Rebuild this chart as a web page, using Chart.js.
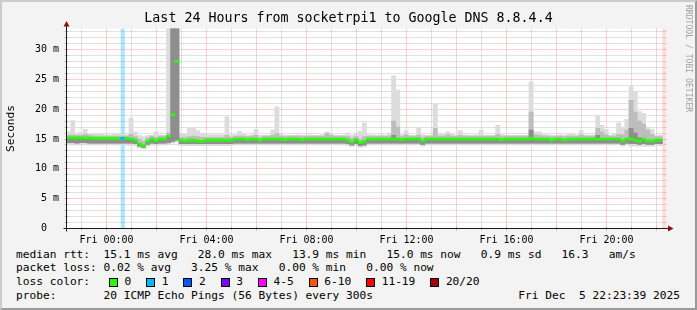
<!DOCTYPE html>
<html><head><meta charset="utf-8">
<script src="https://cdn.jsdelivr.net/npm/chart.js@4/dist/chart.umd.min.js"></script>
<style>
html,body{margin:0;padding:0;background:#f3f3f3;}
#frame{position:absolute;left:0;top:0;width:697px;height:310px;box-sizing:border-box;background:#f3f3f3;border-style:solid;border-width:2px;border-color:#cbcbcb #9a9a9a #9a9a9a #cbcbcb;}
canvas{position:absolute;left:0;top:0;}
.lg{position:absolute;font-family:'DejaVu Sans Mono',monospace;font-size:11.2px;line-height:14px;white-space:pre;color:#000;}
.box{position:absolute;width:7px;height:7px;border:1px solid #000;}
#wm{position:absolute;left:685px;top:5px;writing-mode:vertical-rl;font-family:'DejaVu Sans Mono',monospace;font-size:8.1px;line-height:8px;color:#a0a0a0;white-space:pre;}
</style></head><body>
<div id="frame"></div>
<canvas id="c" width="697" height="245"></canvas>
<div id="legend"></div>
<div id="wm">RRDTOOL / TOBI OETIKER</div>
<script>
// ---- data (10-minute bins over the last 24 hours, values in ms) ----
const titleText = 'Last 24 Hours from socketrpi1 to Google DNS 8.8.4.4';
const xTickHours = [1.6, 5.6, 9.6, 13.6, 17.6, 21.6];
const xTickLabels = ['Fri 00:00','Fri 04:00','Fri 08:00','Fri 12:00','Fri 16:00','Fri 20:00'];
const yTickValues = [0, 5, 10, 15, 20, 25, 30];
const yTickLabels = ['0  ', '5 m', '10 m', '15 m', '20 m', '25 m', '30 m'];

const median = [
15.2,15.2,15.2,15.2,15.2,15.2, 15.1,15.1,15.1,15.1,15.1,15.1,
15.1,15.1,15.1,15.0,14.8,14.2, 13.9,14.6,15.0,14.7,15.0,15.0,
15.5,19.1,28.0,14.8,14.7,14.8, 14.8,14.7,14.6,14.8,14.8,14.8,
14.8,14.8,14.8,14.8,15.0,15.0, 15.0,14.9,15.0,15.0,14.8,15.0,
15.0,15.0,15.0,15.0,14.9,15.0, 15.0,15.0,14.9,15.0,15.0,15.0,
15.0,15.0,15.0,15.0,15.0,15.0, 15.0,14.8,14.5,14.9,14.4,14.6,
15.0,15.0,15.0,15.0,15.0,15.0, 15.0,15.0,14.9,15.0,15.0,15.0,
15.0,14.7,15.0,15.0,15.0,15.0, 15.0,15.0,15.0,15.0,15.0,15.0,
15.0,15.0,15.0,15.0,15.0,15.0, 15.0,15.0,14.9,15.0,15.0,15.0,
15.0,15.0,15.0,15.1,15.0,15.0, 15.0,15.0,14.8,15.0,15.0,14.8,
15.0,15.0,15.0,15.0,15.0,15.0, 15.0,15.0,15.0,15.0,15.0,15.0,
15.0,14.7,15.0,15.0,14.8,14.7, 15.0,14.7,14.7,14.8,14.8,null];

const smokeMax = [
16.2,18.1,16.0,16.1,16.6,15.8, 15.8,15.9,15.8,15.7,15.7,15.8,
15.9,15.8,15.7,18.5,16.2,15.6, 15.4,15.6,15.6,16.2,15.6,15.6,
40,40,40,15.8,15.8,16.8,       16.8,16.4,15.9,15.9,15.7,15.7,
15.7,15.7,18.7,15.7,15.7,16.3, 15.8,15.6,15.7,16.6,15.6,15.6,
15.6,16.5,20.4,15.9,15.6,15.6, 15.6,15.7,15.6,15.6,15.7,15.6,
15.6,15.7,16.2,16.0,15.6,15.6, 15.6,16.0,15.6,15.8,16.3,17.7,
15.7,15.7,15.6,15.7,15.6,16.0, 25.6,23.2,15.7,16.4,15.6,15.6,
16.9,15.7,15.6,15.6,20.8,16.0, 15.8,16.2,15.9,15.6,16.4,15.7,
15.6,15.6,15.7,16.5,15.6,15.6, 15.6,17.3,15.7,15.6,15.6,15.6,
15.6,15.6,15.6,24.6,16.2,16.2, 15.8,15.7,15.6,15.6,15.7,15.6,
15.8,15.8,15.6,16.4,15.7,15.6, 15.7,18.9,17.3,16.6,15.6,15.8,
17.7,17.0,18.3,23.8,23.0,19.6, 19.3,17.0,16.6,15.6,15.6,null];

const smokeUp = [
15.6,15.7,15.6,15.6,15.8,15.6, 15.5,15.5,15.5,15.5,15.5,15.5,
15.5,15.5,15.5,15.8,15.4,15.0, 14.6,15.2,15.5,15.3,15.5,15.5,
16.0,40,40,15.3,15.3,15.4,     15.5,15.4,15.3,15.3,15.3,15.3,
15.3,15.3,15.6,15.3,15.5,15.5, 15.5,15.4,15.5,15.6,15.3,15.5,
15.5,15.6,15.9,15.5,15.4,15.5, 15.5,15.5,15.5,15.5,15.5,15.5,
15.5,15.5,15.9,15.6,15.5,15.5, 15.5,15.4,15.1,15.4,15.0,15.4,
15.5,15.5,15.5,15.5,15.5,15.5, 18.0,17.0,15.5,15.7,15.5,15.5,
15.6,15.3,15.5,15.5,16.8,15.5, 15.5,15.7,15.5,15.5,15.6,15.5,
15.5,15.5,15.5,15.5,15.5,15.5, 15.5,15.8,15.5,15.5,15.5,15.5,
15.5,15.5,15.5,19.5,15.7,15.6, 15.5,15.5,15.4,15.5,15.5,15.4,
15.5,15.5,15.5,15.7,15.5,15.5, 15.5,16.8,16.2,15.7,15.5,15.5,
15.8,15.7,16.5,21.5,19.5,18.0, 17.5,16.5,15.8,15.4,15.4,null];

const smokeDark = [
15.2,15.2,15.2,15.2,15.2,15.2, 15.1,15.1,15.1,15.1,15.1,15.1,
15.1,15.1,15.1,15.0,14.8,14.2, 13.9,14.6,15.0,14.7,15.0,15.0,
15.5,40,40,14.8,14.7,14.8,     14.8,14.7,14.6,14.8,14.8,14.8,
14.8,14.8,14.8,14.8,15.0,15.0, 15.0,14.9,15.0,15.0,14.8,15.0,
15.0,15.0,15.0,15.0,14.9,15.0, 15.0,15.0,14.9,15.0,15.0,15.0,
15.0,15.0,15.0,15.0,15.0,15.0, 15.0,14.8,14.5,14.9,14.4,14.6,
15.0,15.0,15.0,15.0,15.0,15.0, 15.6,15.0,14.9,15.0,15.0,15.0,
15.0,14.7,15.0,15.0,15.0,15.0, 15.0,15.0,15.0,15.0,15.0,15.0,
15.0,15.0,15.0,15.0,15.0,15.0, 15.0,15.0,14.9,15.0,15.0,15.0,
15.0,15.0,15.0,16.5,15.0,15.0, 15.0,15.0,14.8,15.0,15.0,14.8,
15.0,15.0,15.0,15.0,15.0,15.0, 15.0,15.6,15.0,15.0,15.0,15.0,
15.0,14.7,15.0,16.8,16.0,15.2, 15.0,14.7,14.7,14.8,14.8,null];

const smokeLo = [
14.4,14.4,14.3,14.4,14.4,14.3, 14.3,14.3,14.3,14.3,14.3,14.3,
14.3,14.3,14.3,14.3,14.2,13.8, 13.6,14.1,14.3,14.2,14.3,14.3,
14.4,14.6,14.8,14.2,14.2,14.2, 14.2,14.2,14.2,14.2,14.2,14.2,
14.2,14.2,14.2,14.2,14.3,14.3, 14.3,14.3,14.3,14.3,14.3,14.3,
14.3,14.3,14.3,14.3,14.3,14.3, 14.3,14.3,14.3,14.3,14.3,14.3,
14.3,14.3,14.3,14.3,14.3,14.3, 14.3,14.2,14.0,14.2,13.9,14.0,
14.3,14.3,14.3,14.3,14.3,14.3, 14.3,14.3,14.3,14.3,14.3,14.3,
14.3,14.1,14.3,14.3,14.3,14.3, 14.3,14.3,14.3,14.3,14.3,14.3,
14.3,14.3,14.3,14.3,14.3,14.3, 14.3,14.3,14.3,14.3,14.3,14.3,
14.3,14.3,14.3,14.3,14.3,14.3, 14.3,14.3,14.3,14.3,14.3,14.3,
14.3,14.3,14.3,14.3,14.3,14.3, 14.3,14.3,14.3,14.3,14.3,14.3,
14.3,14.1,14.3,14.2,14.2,14.1, 14.2,14.1,14.1,14.2,14.2,null];

const smokeMin = [
14.0,14.0,14.0,14.0,14.1,14.0, 14.0,14.0,14.0,14.0,14.0,14.0,
14.0,14.0,14.0,13.9,13.9,13.5, 13.4,13.8,14.0,13.9,14.0,14.0,
14.1,14.3,14.5,13.9,13.9,13.9, 13.9,13.9,13.9,13.9,13.9,13.9,
13.9,13.9,13.9,13.9,14.0,14.0, 14.0,14.0,14.0,14.0,14.0,14.0,
14.0,14.0,14.0,14.0,14.0,14.0, 14.0,14.0,14.0,14.0,14.0,14.0,
14.0,14.0,14.0,14.0,14.0,14.0, 14.0,13.9,13.7,13.9,13.6,13.7,
14.0,14.0,14.0,14.0,14.0,14.0, 14.0,14.0,14.0,14.0,14.0,14.0,
14.0,13.8,14.0,14.0,14.0,14.0, 14.0,14.0,14.0,14.0,14.0,14.0,
14.0,14.0,14.0,14.0,14.0,14.0, 14.0,14.0,14.0,14.0,14.0,14.0,
14.0,14.0,14.0,14.0,14.0,14.0, 14.0,14.0,14.0,14.0,14.0,14.0,
14.0,14.0,14.0,14.0,14.0,14.0, 14.0,14.0,14.0,14.0,14.0,14.0,
14.0,13.8,14.0,13.8,13.8,13.8, 13.8,13.8,13.8,13.9,13.9,null];

const lossCount = [
0,0,0,0,0,0, 0,0,0,0,0,0, 0,1,0,0,0,0, 0,0,0,0,0,0,
0,0,0,0,0,0, 0,0,0,0,0,0, 0,0,0,0,0,0, 0,0,0,0,0,0,
0,0,0,0,0,0, 0,0,0,0,0,0, 0,0,0,0,0,0, 0,0,0,0,0,0,
0,0,0,0,0,0, 0,0,0,0,0,0, 0,0,0,0,0,0, 0,0,0,0,0,0,
0,0,0,0,0,0, 0,0,0,0,0,0, 0,0,0,0,0,0, 0,0,0,0,0,0,
0,0,0,0,0,0, 0,0,0,0,0,0, 0,0,0,0,0,0, 0,0,0,0,0,20];

const lossLabels = ['0','1','2','3','4-5','6-10','11-19','20/20'];
const lossFrom   = [0, 1, 2, 3, 4, 6, 11, 20];
const lossColors = ['#26ff00','#00b8ff','#0059ff','#7e00ff','#ff00ff','#ff5500','#ff0000','#a00000'];
const lossBgColors = ['rgba(38,255,0,0.3)','rgba(0,184,255,0.33)','rgba(0,89,255,0.3)','rgba(126,0,255,0.3)','rgba(255,0,255,0.3)','rgba(255,85,0,0.3)','rgba(255,0,0,0.3)','rgba(255,0,0,0.14)'];

const rttStats = ['15.1 ms avg','28.0 ms max','13.9 ms min','15.0 ms now','0.9 ms sd','16.3   am/s'];
const lossStats = ['0.02 % avg','3.25 % max','0.00 % min','0.00 % now'];
const probeText = '20 ICMP Echo Pings (56 Bytes) every 300s';
const stampText = 'Fri Dec  5 22:23:39 2025';

// ---- chart ----
const mono = "'DejaVu Sans Mono', monospace";
const yMax = 33.52;
const binH = 24 / median.length;
const xs = median.map((_, i) => (i + 0.5) * binH);
function lossIdx(n){ let k = 0; lossFrom.forEach((f, j) => { if (n >= f) k = j; }); return k; }
function band(lo, hi){ return xs.map((x, i) => ({x, y: (lo[i] == null || hi[i] == null) ? null : [lo[i], hi[i]]})); }

const medianBars = xs.map((x, i) => ({x, y: median[i] == null ? null : [median[i] - 0.17, median[i] + 0.17]}));
const lossBars = xs.map((x, i) => ({x, y: lossCount[i] > 0 ? [0, yMax] : null}));

const gridMinor = 'rgba(140,140,140,0.5)';
const gridMajor = 'rgba(235,80,80,0.5)';
const axisColor = '#1a1a1a';
const arrowColor = '#8b1010';

const rrdPlugin = {
  id: 'rrd',
  beforeDraw(chart){
    const {ctx, chartArea: a} = chart;
    ctx.save(); ctx.fillStyle = '#ffffff';
    ctx.fillRect(a.left, a.top, a.right - a.left, a.bottom - a.top);
    ctx.restore();
  },
  beforeDatasetsDraw(chart){
    const {ctx, chartArea: a, scales: {x, y}} = chart;
    ctx.save(); ctx.lineWidth = 1;
    for (let v = 1; v <= Math.floor(yMax); v++){
      const py = Math.round(y.getPixelForValue(v) - 0.5) + 0.5;
      const major = v % 5 === 0;
      ctx.strokeStyle = major ? gridMajor : gridMinor;
      ctx.setLineDash([1, 1]);
      ctx.beginPath(); ctx.moveTo(a.left + 1, py); ctx.lineTo(a.right, py); ctx.stroke();
      ctx.setLineDash([]);
      ctx.beginPath(); ctx.moveTo(a.left - 2, py); ctx.lineTo(a.left + 2, py); ctx.stroke();
    }
    for (let k = 0; k < 24; k++){
      const h = xTickHours[0] - 1 + k;
      const px = Math.round(x.getPixelForValue(h) - 0.5) + 0.5;
      const major = k % 2 === 1;
      ctx.strokeStyle = major ? gridMajor : gridMinor;
      ctx.setLineDash([1, 1]);
      ctx.beginPath(); ctx.moveTo(px, a.top); ctx.lineTo(px, a.bottom - 1); ctx.stroke();
      ctx.setLineDash([]);
      ctx.beginPath(); ctx.moveTo(px, a.bottom - 2); ctx.lineTo(px, a.bottom + 2); ctx.stroke();
    }
    ctx.restore();
  },
  afterDraw(chart){
    const {ctx, chartArea: a} = chart;
    const ax = Math.round(a.left - 0.5) + 0.5, ay = Math.round(a.bottom - 0.5) + 0.5;
    ctx.save();
    ctx.strokeStyle = axisColor; ctx.lineWidth = 1;
    ctx.beginPath(); ctx.moveTo(ax, ay + 3); ctx.lineTo(ax, a.top - 3); ctx.stroke();
    ctx.beginPath(); ctx.moveTo(ax - 3, ay); ctx.lineTo(a.right + 2, ay); ctx.stroke();
    ctx.fillStyle = arrowColor;
    ctx.beginPath(); ctx.moveTo(ax, a.top - 7.5); ctx.lineTo(ax - 3, a.top - 2); ctx.lineTo(ax + 3, a.top - 2); ctx.closePath(); ctx.fill();
    ctx.beginPath(); ctx.moveTo(a.right + 7, ay); ctx.lineTo(a.right + 1.5, ay - 3); ctx.lineTo(a.right + 1.5, ay + 3); ctx.closePath(); ctx.fill();
    ctx.restore();
  }
};

const barCommon = {type: 'bar', grouped: false, barPercentage: 1, categoryPercentage: 1, borderWidth: 0};
new Chart(document.getElementById('c'), {
  type: 'bar',
  data: { datasets: [
    Object.assign({label: 'median rtt', data: medianBars, order: 0,
      backgroundColor: xs.map((_, i) => lossColors[lossIdx(lossCount[i])])}, barCommon),
    Object.assign({label: 'smoke dark', data: band(smokeLo, smokeDark), order: 1, backgroundColor: '#8e8e8e'}, barCommon),
    Object.assign({label: 'smoke mid', data: band(smokeLo, smokeUp), order: 2, backgroundColor: '#bdbdbd'}, barCommon),
    Object.assign({label: 'smoke', data: band(smokeMin, smokeMax), order: 3, backgroundColor: '#dcdcdc'}, barCommon),
    Object.assign({label: 'loss', data: lossBars, order: 4,
      backgroundColor: xs.map((_, i) => lossBgColors[lossIdx(lossCount[i])]), inflateAmount: 0}, barCommon)
  ]},
  options: {
    responsive: false, animation: false, devicePixelRatio: 1, events: [],
    layout: {padding: 0},
    plugins: {
      legend: {display: false}, tooltip: {enabled: false},
      title: {display: true, text: titleText, color: '#000',
        font: {family: mono, size: 13.3, weight: 'normal', lineHeight: 1.2},
        padding: {top: 11, bottom: 1.54}}
    },
    scales: {
      x: {type: 'linear', min: 0, max: 24, position: 'bottom', offset: false,
        grid: {display: false, drawTicks: false, offset: false}, border: {display: true, color: axisColor, z: 1},
        ticks: {font: {family: mono, size: 10}, color: '#000', padding: 6, maxRotation: 0, autoSkip: false,
          callback: (v, i) => xTickLabels[i]},
        afterBuildTicks: s => { s.ticks = xTickHours.map(v => ({value: v})); },
        afterFit: s => { s.height = 16.5; }},
      y: {type: 'linear', min: 0, max: yMax, position: 'left',
        grid: {display: false, drawTicks: false}, border: {display: true, color: axisColor, z: 1},
        ticks: {font: {family: mono, size: 10}, color: '#000', padding: 7.5,
          callback: (v, i) => yTickLabels[i]},
        afterBuildTicks: s => { s.ticks = yTickValues.map(v => ({value: v})); },
        title: {display: true, text: 'Seconds', color: '#000', font: {family: mono, size: 11.2}, padding: {top: 4, bottom: 0}},
        afterFit: s => { s.width = 66.5; }},
      y2: {type: 'linear', position: 'right', display: true,
        grid: {display: false, drawTicks: false}, border: {display: false}, ticks: {display: false},
        afterFit: s => { s.width = 30.5; }}
    }
  },
  plugins: [rrdPlugin]
});

// ---- legend block (text) ----
const CW = 11.2 * 0.602;
const legend = document.getElementById('legend');
function addText(txt, left, top, right){
  const d = document.createElement('div'); d.className = 'lg'; d.textContent = txt;
  d.style.top = top + 'px';
  if (right != null) d.style.right = right + 'px'; else d.style.left = left + 'px';
  legend.appendChild(d); return d;
}
const rowTop = [247.7, 261.3, 275.3, 289];
addText('median rtt:  ' + rttStats.join('   '), 16, rowTop[0]);
addText('packet loss: ' + lossStats.join('   '), 16, rowTop[1]);
addText('loss color:', 16, rowTop[2]);
let bx = 109;
lossLabels.forEach((lab, k) => {
  const b = document.createElement('div'); b.className = 'box';
  b.style.left = bx + 'px'; b.style.top = '277.5px'; b.style.background = lossColors[k];
  legend.appendChild(b);
  addText(lab, bx + 15.5, rowTop[2]);
  bx = bx + 15.5 + lab.length * CW + 15;
});
addText('probe:       ' + probeText, 16, rowTop[3]);
addText(stampText, null, rowTop[3], 697 - 680);
</script>
</body></html>
